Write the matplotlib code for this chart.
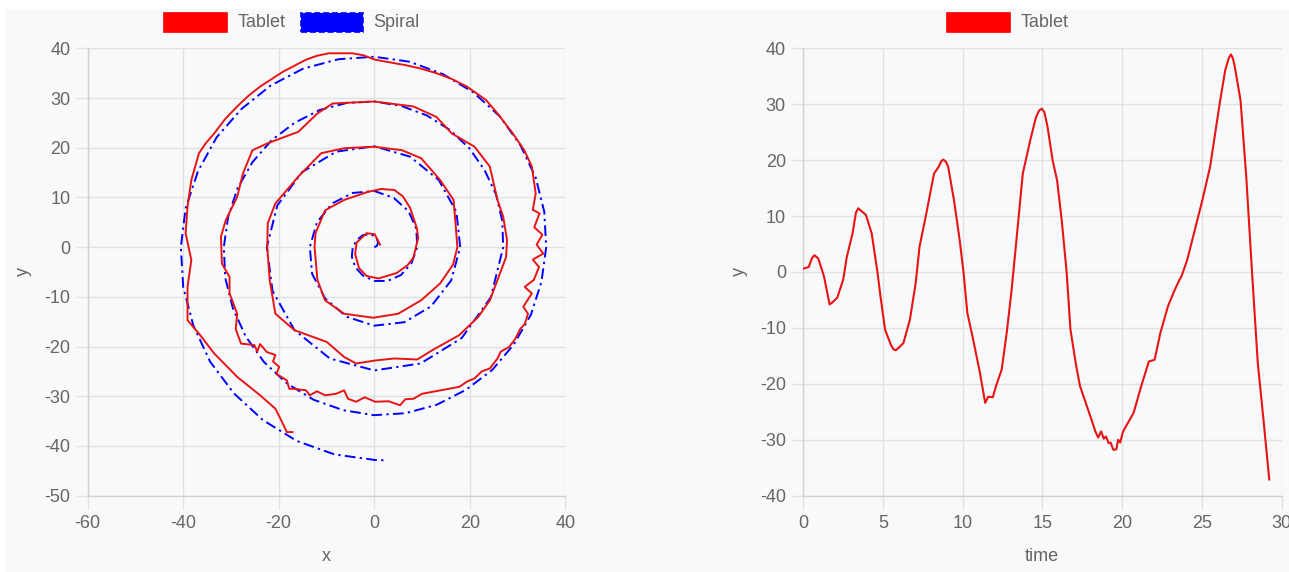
import matplotlib
matplotlib.use("Agg")
import matplotlib.pyplot as plt
from matplotlib.patches import Rectangle

# Tablet trace in the x/y plane
tablet_x = [
    1.2, 0.1, -1.6, -3.7, -4.0, -3.2, -1.6, 0.9, 4.7, 7.0,
    8.2, 9.2, 8.9, 7.5, 6.0, 4.2, 1.4, -1.4, -6.3, -10.3,
    -12.3, -12.5, -11.9, -10.3, -6.3, -0.2, 5.0, 9.8, 13.8, 16.5,
    17.4, 17.0, 16.6, 13.8, 9.8, 5.8, 0.0, -6.3, -11.1, -15.9,
    -20.7, -22.3, -22.4, -21.9, -20.7, -16.7, -9.9, -6.3, -3.8, 0.2,
    4.2, 9.0, 12.2, 17.8, 21.8, 24.2, 25.8, 27.6, 27.8, 27.0,
    25.8, 24.2, 21.0, 16.2, 13.0, 8.2, 0.0, -8.7, -11.9, -15.9,
    -22.3, -25.5, -27.5, -28.7, -31.1, -32.1, -31.9, -30.3, -30.3, -28.7,
    -29.0, -27.9, -25.1, -24.5, -23.9, -22.5, -20.7, -21.2, -19.9, -20.5,
    -18.3, -17.8, -16.7, -14.3, -13.5, -12.0, -10.3, -8.0, -6.3, -5.5,
    -3.8, -2.0, 0.2, 3.0, 5.4, 6.5, 8.2, 10.0, 12.2, 15.0,
    17.8, 19.5, 21.0, 22.5, 24.2, 25.8, 26.5, 28.2, 29.5, 30.6,
    31.5, 32.2, 31.2, 33.0, 31.5, 33.4, 34.5, 33.2, 35.4, 34.0,
    35.2, 33.5, 34.6, 33.2, 33.8, 33.0, 31.4, 29.0, 25.8, 23.4,
    19.4, 16.3, 13.0, 9.8, 6.6, 0.2, -2.3, -4.6, -9.5, -12.0,
    -14.3, -19.1, -23.9, -26.4, -28.7, -31.2,
    -33.5, -35.2, -36.7, -38.3, -39.1, -39.5, -38.3, -39.1, -39.1, -36.7,
    -33.5, -28.7, -23.9, -20.7, -19.5, -18.3, -17.1]
tablet_y = [
    0.5, 2.6, 2.8, 0.9, -1.4, -4.2, -5.8, -6.3, -5.2, -3.6,
    -2.1, 1.9, 3.9, 7.9, 10.2, 11.5, 11.7, 11.1, 9.5, 7.4,
    2.8, 0.0, -6.6, -10.7, -13.4, -14.2, -13.4, -10.7, -7.3, -3.5,
    0.0, 5.0, 9.5, 13.5, 17.9, 19.5, 20.2, 19.9, 18.9, 14.2,
    8.8, 4.8, 0.0, -6.6, -13.4, -16.7, -19.1, -22.1, -23.4, -22.8,
    -22.4, -22.6, -20.7, -17.7, -14.0, -10.7, -6.6, -2.0, 1.4, 6.1,
    9.5, 16.2, 20.2, 22.9, 26.2, 28.3, 29.3, 28.9, 26.9, 23.2,
    20.9, 19.5, 14.8, 10.1, 5.4, 2.1, -3.3, -6.0, -9.3, -13.4,
    -16.5, -19.4, -19.7, -21.0, -19.5, -21.1, -21.7, -23.0, -24.1, -25.5,
    -26.8, -28.5, -28.5, -28.8, -29.8, -29.0, -29.8, -29.5, -28.8, -30.5,
    -31.1, -30.2, -31.1, -31.0, -31.8, -30.6, -30.5, -29.5, -29.1, -28.6,
    -28.1, -27.0, -26.4, -25.0, -24.4, -22.4, -21.0, -20.1, -18.5, -16.4,
    -15.5, -13.4, -12.0, -9.3, -8.0, -6.6, -4.0, -2.5, -1.3, 0.5,
    2.5, 4.0, 6.8, 7.5, 10.8, 16.2, 19.5, 22.9, 26.9, 29.6,
    32.3, 33.8, 35.0, 35.9, 36.6, 37.7, 38.6, 39.0, 39.0, 38.5,
    37.7, 35.3, 32.3, 30.4, 28.3, 25.8,
    22.9, 21.0, 18.9, 13.5, 8.1, 2.8, -2.6, -8.0, -14.7, -17.4,
    -21.4, -26.1, -29.8, -32.5, -34.8, -37.2, -37.2]

# Reference spiral
spiral_x = [
    0.0, 0.5, 0.8, 0.6, 0.0, -1.1, -2.4, -3.6, -4.5, -4.7,
    -4.0, -2.4, 0.0, 2.8, 5.6, 7.8, 9.0, 8.8, 7.2, 4.1,
    0.0, -4.5, -8.8, -12.0, -13.5, -13.0, -10.3, -5.8, 0.0, 6.3,
    11.9, 16.1, 18.0, 17.2, 13.5, 7.5, 0.0, -8.0, -15.1, -20.3,
    -22.5, -21.3, -16.7, -9.3, 0.0, 9.7, 18.3, 24.4, 27.0,
    26.8, 25.5, 23.1, 19.9, 15.8, 11.0, 5.7, 0.0,
    -5.8, -11.4, -16.7, -21.5, -25.5, -28.6, -30.6, -31.5,
    -31.2, -29.6, -26.9, -23.1, -18.3, -12.7, -6.5, 0.0,
    6.6, 13.1, 19.2, 24.7, 29.2, 32.8, 35.0, 36.0,
    35.6, 33.8, 30.6, 26.3, 20.8, 14.4, 7.4, 0.0,
    -7.5, -14.9, -21.7, -27.8, -33.0, -36.9, -39.5, -40.5,
    -40.0, -37.9, -34.4, -29.4, -23.3, -16.2, -8.3, 0.0,
    2.4]
spiral_y = [
    0.0, 0.2, 0.8, 1.6, 2.3, 2.6, 2.4, 1.5, 0.0, -1.9,
    -4.0, -5.7, -6.8, -6.8, -5.6, -3.2, 0.0, 3.7, 7.2, 9.9,
    11.3, 10.9, 8.8, 5.0, 0.0, -5.4, -10.3, -14.0, -15.8, -15.1,
    -11.9, -6.7, 0.0, 7.1, 13.5, 18.2, 20.3, 19.2, 15.1, 8.4,
    0.0, -8.8, -16.7, -22.4, -24.8, -23.4, -18.3, -10.1, 0.0,
    5.3, 10.6, 15.5, 19.9, 23.6, 26.5, 28.4, 29.3,
    29.0, 27.6, 25.0, 21.5, 17.1, 11.9, 6.1, 0.0,
    -6.2, -12.3, -18.0, -23.1, -27.4, -30.7, -32.8, -33.8,
    -33.4, -31.7, -28.7, -24.7, -19.6, -13.6, -7.0, 0.0,
    7.1, 14.0, 20.5, 26.3, 31.1, 34.8, 37.3, 38.3,
    37.8, 35.9, 32.5, 27.8, 22.1, 15.3, 7.8, 0.0,
    -8.0, -15.7, -23.0, -29.4, -34.8, -39.0, -41.7, -42.8,
    -42.9]

# Tablet y over time (right panel)
time = [
    0, 0.34, 0.55, 0.7, 0.94, 1.3, 1.65, 1.8, 2.13, 2.5,
    2.73, 3.09, 3.3, 3.45, 3.6, 3.93, 4.29, 4.65, 4.84, 5.13,
    5.49, 5.65, 5.8, 6.0, 6.28, 6.69, 7.05, 7.29, 7.72, 8.2,
    8.49, 8.65, 8.78, 8.95, 9.09, 9.45, 9.81, 10.05, 10.29, 10.65,
    11.08, 11.41, 11.6, 11.89, 12.09, 12.45, 12.76, 13.05, 13.29, 13.77,
    14.24, 14.6, 14.8, 14.96, 15.12, 15.32, 15.64, 15.92, 16.21, 16.52,
    16.76, 17.12, 17.36, 17.72, 18.08, 18.32, 18.5, 18.68, 18.85, 18.99,
    19.15, 19.28, 19.45, 19.64, 19.75, 19.88, 20.05, 20.24, 20.72, 21.2,
    21.68, 22.04, 22.4, 22.88, 23.3, 23.6, 23.72, 24.08, 24.56, 25.04,
    25.52, 26.12, 26.47, 26.7, 26.83, 26.95, 27.07, 27.43, 27.79, 28.15,
    28.51, 28.87, 29.23]
time_y = [
    0.6, 0.9, 2.5, 3.0, 2.4, -0.8, -5.8, -5.5, -4.6, -1.4,
    2.7, 6.9, 10.6, 11.4, 11.0, 10.2, 6.9, 0, -4.3, -10.3,
    -13.0, -13.8, -14.0, -13.5, -12.7, -8.5, -2.0, 4.5, 10.5, 17.6,
    18.8, 19.8, 20.1, 19.7, 18.8, 12.9, 5.7, 0, -7.3, -12.0,
    -18.0, -23.4, -22.3, -22.4, -20.4, -17.4, -10.9, -3.7, 3.3, 17.6,
    23.6, 27.7, 28.9, 29.2, 28.6, 26.0, 20.0, 16.4, 9.3, 0,
    -10.3, -16.8, -20.4, -23.4, -26.4, -28.5, -29.6, -28.5, -29.8, -29.4,
    -30.6, -30.5, -31.8, -31.7, -30.0, -30.5, -28.6, -27.6, -25.2, -20.4,
    -16.0, -15.7, -10.9, -6.1, -3.2, -1.4, -0.8, 2.1, 7.5, 12.9,
    18.8, 30.1, 36.1, 38.3, 38.9, 38.2, 36.7, 30.7, 17.0, 0,
    -16.2, -26.4, -37.1]

W, H = 1289, 572
GRID = "#e0e1e2"
TEXT = "#666666"
plt.rcParams["font.family"] = ["Liberation Sans", "DejaVu Sans"]
plt.rcParams["axes.unicode_minus"] = False

fig = plt.figure(figsize=(W / 100, H / 100), dpi=100)
fig.patch.set_facecolor("white")
fig.add_artist(Rectangle((5 / W, 0), 1, 1 - 9.3 / H, transform=fig.transFigure,
                         facecolor="#f8f9fa", edgecolor="none", zorder=-5))


def px_axes(x0, x1, y0, y1):
    return fig.add_axes([x0 / W, 1 - y1 / H, (x1 - x0) / W, (y1 - y0) / H])


def style(ax, xlim, ylim, xticks, yticks):
    ax.set_facecolor("none")
    ax.set_xlim(*xlim)
    ax.set_ylim(*ylim)
    ax.set_xticks(xticks)
    ax.set_yticks(yticks)
    ax.grid(True, color=GRID, linewidth=1)
    ax.set_axisbelow(True)
    for s in ["top", "right"]:
        ax.spines[s].set_visible(False)
    for s in ["left", "bottom"]:
        ax.spines[s].set_color("#d0d1d2")
        ax.spines[s].set_linewidth(1)
    ax.tick_params(length=9, width=1, color=GRID, labelcolor=TEXT,
                   labelsize=13)
    ax.tick_params(axis="y", pad=3.5)
    ax.tick_params(axis="x", pad=5)


ax1 = px_axes(87.7, 565.3, 48.3, 495.7)
style(ax1, (-60, 40), (-50, 40), range(-60, 41, 20), range(-50, 41, 10))
ax1.plot(spiral_x, spiral_y, color="#0000ff", linewidth=1.4,
         linestyle=(0, (5.5, 2.2, 1.2, 2.2)), zorder=2)
ax1.plot(tablet_x, tablet_y, color="#e81414", linewidth=1.4, zorder=3)

ax2 = px_axes(803.3, 1281.5, 48.3, 495.7)
style(ax2, (0, 30), (-40, 40), range(0, 31, 5), range(-40, 41, 10))
ax2.plot(time, time_y, color="#e81414", linewidth=1.5, zorder=3)


def legend_item(x, label, color, dashed=False):
    fig.add_artist(Rectangle((x / W, 1 - 32.3 / H), 62.4 / W, 19 / H,
                             transform=fig.transFigure, facecolor=color,
                             edgecolor=color, linewidth=1.2,
                             linestyle="--" if dashed else "-"))
    fig.text((x + 73) / W, 1 - 22.8 / H, label, color=TEXT, fontsize=13,
             va="center", ha="left")


legend_item(164.3, "Tablet", "#ff0000")
legend_item(300.7, "Spiral", "#0000ff", dashed=True)
legend_item(947.2, "Tablet", "#ff0000")

fig.text(326.5 / W, 1 - 556.7 / H, "x", color=TEXT, fontsize=13,
         ha="center", va="center")
fig.text(1042 / W, 1 - 556.7 / H, "time", color=TEXT, fontsize=13,
         ha="center", va="center")
fig.text(23.3 / W, 1 - 271.7 / H, "y", color=TEXT, fontsize=13,
         ha="center", va="center", rotation=90)
fig.text(739.8 / W, 1 - 271.7 / H, "y", color=TEXT, fontsize=13,
         ha="center", va="center", rotation=90)

fig.savefig("out.png", dpi=100, facecolor=fig.get_facecolor())
